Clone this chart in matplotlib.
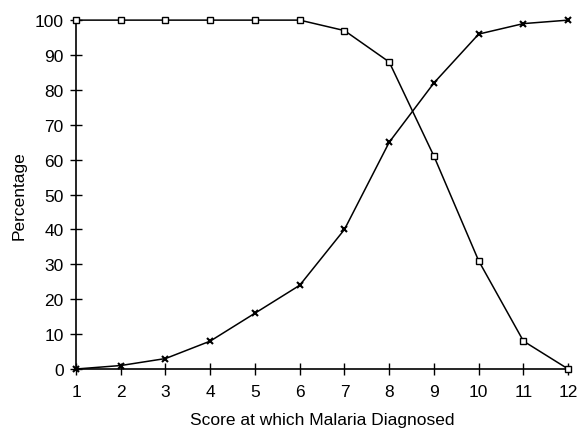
import numpy as np
import matplotlib
matplotlib.use("Agg")
import matplotlib.pyplot as plt

plt.rcParams['font.family'] = ['Liberation Sans', 'DejaVu Sans']

scores = [1, 2, 3, 4, 5, 6, 7, 8, 9, 10, 11, 12]
squares = [100, 100, 100, 100, 100, 100, 97, 88, 61, 31, 8, 0]
crosses = [0, 1, 3, 8, 16, 24, 40, 65, 82, 96, 99, 100]

fig = plt.figure(figsize=(5.78, 4.31), dpi=100)
ax = fig.add_axes([0.1315, 0.1415, 0.8515, 0.8095])

ax.plot(scores, squares, color='black', lw=1.1, marker='s', ms=4.2,
        mfc='white', mec='black', mew=1.0, clip_on=False, zorder=3)
ax.plot(scores, crosses, color='black', lw=1.1, marker='x', ms=4.5,
        mew=1.5, clip_on=False, zorder=3)

ax.set_xlim(1, 12)
ax.set_ylim(0, 100)
ax.set_xticks(scores)
ax.set_yticks(np.arange(0, 101, 10))
ax.spines['top'].set_visible(False)
ax.spines['right'].set_visible(False)
ax.spines['left'].set_linewidth(1.2)
ax.spines['bottom'].set_linewidth(1.2)
ax.tick_params(direction='inout', length=8, width=1, labelsize=12.5)
ax.tick_params(axis='x', pad=7)
ax.tick_params(axis='y', pad=5)

ax.set_xlabel("Score at which Malaria Diagnosed", fontsize=12.5, labelpad=9)
ax.set_ylabel("Percentage", fontsize=12.5, labelpad=6)

fig.savefig("out.png", dpi=100)
